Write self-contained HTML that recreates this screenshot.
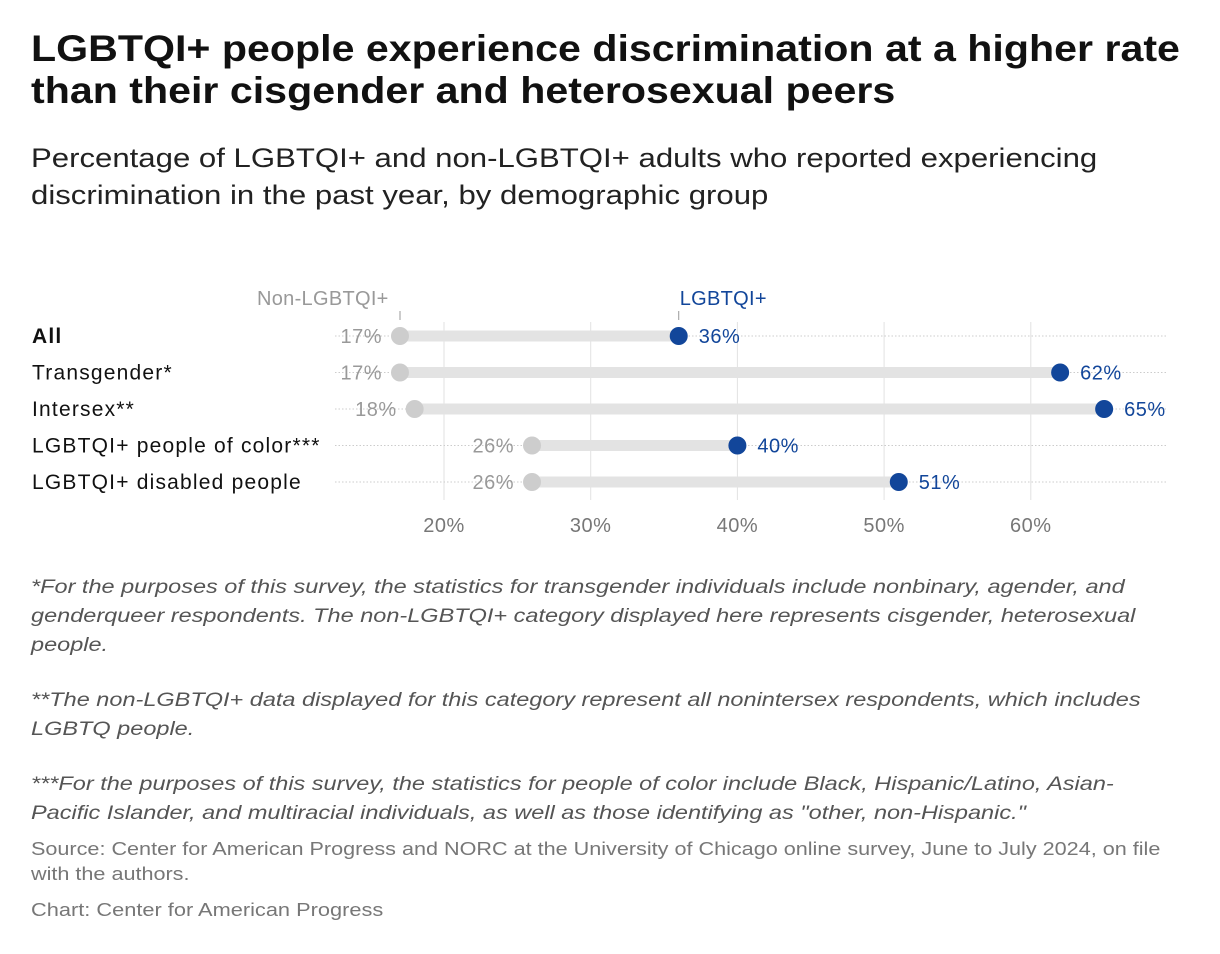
<!DOCTYPE html>
<html><head><meta charset="utf-8"><style>
body{margin:0;width:1220px;height:954px;background:#fff;font-family:"Liberation Sans",sans-serif;position:relative;overflow:hidden}
.t{position:absolute;left:31px;margin:0;transform-origin:0 0;white-space:nowrap}
#title{top:28px;font-size:37px;font-weight:bold;line-height:42px;color:#111;transform:scaleX(1.112)}
#sub{top:140px;font-size:26.5px;line-height:37px;color:#222;transform:scaleX(1.175)}
.note{font-size:19.5px;font-style:italic;color:#555;line-height:29px;transform:scaleX(1.205)}
.src{font-size:18px;color:#777;line-height:25px;transform:scaleX(1.2)}
</style></head><body>
<h1 class="t" id="title">LGBTQI+ people experience discrimination at a higher rate<br>than their cisgender and heterosexual peers</h1>
<p class="t" id="sub">Percentage of LGBTQI+ and non-LGBTQI+ adults who reported experiencing<br>discrimination in the past year, by demographic group</p>
<svg id="chart" width="1220" height="560" style="position:absolute;left:0;top:0" font-family="Liberation Sans, sans-serif"></svg>
<p class="t note" style="top:573px">*For the purposes of this survey, the statistics for transgender individuals include nonbinary, agender, and<br>genderqueer respondents. The non-LGBTQI+ category displayed here represents cisgender, heterosexual<br>people.</p>
<p class="t note" style="top:686px">**The non-LGBTQI+ data displayed for this category represent all nonintersex respondents, which includes<br>LGBTQ people.</p>
<p class="t note" style="top:770px">***For the purposes of this survey, the statistics for people of color include Black, Hispanic/Latino, Asian-<br>Pacific Islander, and multiracial individuals, as well as those identifying as "other, non-Hispanic."</p>
<p class="t src" style="top:837px">Source: Center for American Progress and NORC at the University of Chicago online survey, June to July 2024, on file<br>with the authors.</p>
<p class="t src" style="top:898px;transform:scaleX(1.21)">Chart: Center for American Progress</p>
<script>
const categories=["All","Transgender*","Intersex**","LGBTQI+ people of color***","LGBTQI+ disabled people"];
const nonLgbtq=[17,17,18,26,26];
const lgbtq=[36,62,65,40,51];
const ticks=[20,30,40,50,60];
const NS="http://www.w3.org/2000/svg";
const svg=document.getElementById('chart');
const x=v=>150.6+v*14.67;
const y=i=>336+i*36.5;
function el(t,a,txt){const e=document.createElementNS(NS,t);for(const k in a)e.setAttribute(k,a[k]);if(txt!==undefined)e.textContent=txt;svg.appendChild(e);return e;}
ticks.forEach(t=>{
 const g=el('line',{x1:x(t),x2:x(t),y1:322,y2:500,stroke:'#e2e2e2','stroke-width':1});
 
 
 const l=el('text',{x:x(t),y:532,'text-anchor':'middle','font-size':20,'letter-spacing':0.5,fill:'#777'},t+'%');
 
 
});
categories.forEach((c,i)=>{
 const yy=y(i);
 const d=el('line',{x1:335,x2:1166,y1:yy,y2:yy,stroke:'#ccc','stroke-width':1,'stroke-dasharray':'1.5,2'});
 
 
 const b=el('line',{x1:x(nonLgbtq[i]),x2:x(lgbtq[i]),y1:yy,y2:yy,stroke:'#e3e3e3','stroke-width':11});
 
 
 const cl=el('text',{x:32,y:yy+7,'font-size':21,'letter-spacing':1.2,fill:'#111','font-weight':i==0?'bold':'normal'},c);
 
 
 const p1=el('circle',{cx:x(nonLgbtq[i]),cy:yy,r:9,fill:'#cdcdcd'});
 
 
 const v1=el('text',{x:x(nonLgbtq[i])-18,y:yy+7,'text-anchor':'end','font-size':20,'letter-spacing':0.5,fill:'#999'},nonLgbtq[i]+'%');
 
 
 const p2=el('circle',{cx:x(lgbtq[i]),cy:yy,r:9,fill:'#12469a'});
 
 
 const v2=el('text',{x:x(lgbtq[i])+20,y:yy+7,'font-size':20,'letter-spacing':0.5,fill:'#12469a'},lgbtq[i]+'%');
 
 
});
const a=el('text',{x:x(nonLgbtq[0])-143,y:305,'font-size':20,'letter-spacing':0.3,fill:'#999'},'Non-LGBTQI+');


el('line',{x1:x(nonLgbtq[0]),x2:x(nonLgbtq[0]),y1:311,y2:320,stroke:'#999'});
const b2=el('text',{x:x(lgbtq[0])+1,y:305,'font-size':20,'letter-spacing':0.3,fill:'#12469a'},'LGBTQI+');


el('line',{x1:x(lgbtq[0]),x2:x(lgbtq[0]),y1:311,y2:320,stroke:'#999'});
</script>
</body></html>
